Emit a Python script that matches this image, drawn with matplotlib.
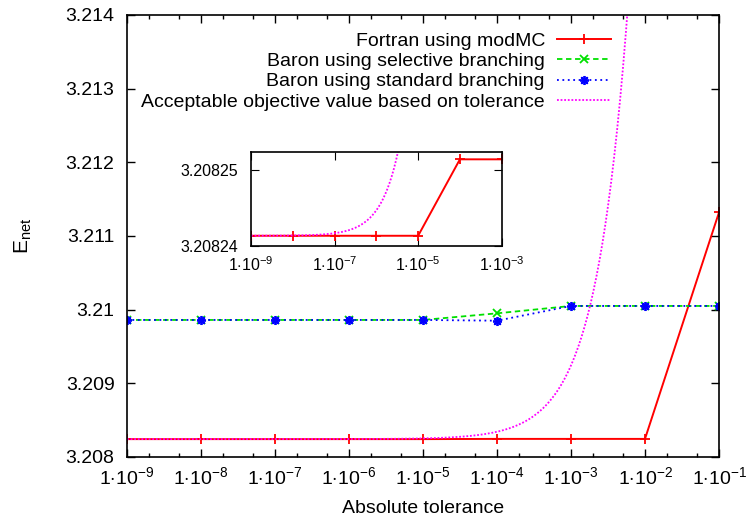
import numpy as np
import matplotlib.pyplot as plt
from matplotlib.ticker import LogLocator, FixedLocator, NullLocator, FuncFormatter

plt.rcParams['font.family'] = ['Liberation Sans', 'DejaVu Sans']
plt.rcParams['mathtext.fontset'] = 'custom'
plt.rcParams['mathtext.rm'] = 'Liberation Sans'
plt.rcParams['mathtext.it'] = 'Liberation Sans:italic'
plt.rcParams['mathtext.bf'] = 'Liberation Sans:bold'

# tolerances
tol = [1e-9, 1e-8, 1e-7, 1e-6, 1e-5, 1e-4, 1e-3, 1e-2, 1e-1]

# objective values
fortran = [3.2082424, 3.2082424, 3.2082424, 3.2082424, 3.2082424,
           3.2082454, 3.2082454, 3.2082454, 3.21132]
baron_sel = [3.20986, 3.20986, 3.20986, 3.20986, 3.20986,
             3.20995, 3.21005, 3.21005, 3.21005]
baron_std = [3.20986, 3.20986, 3.20986, 3.20986, 3.20986,
             3.20985, 3.21005, 3.21005, 3.21005]

# acceptable value = best objective + tolerance
best_obj = 3.2082424
xs = np.logspace(-9, -1, 600)
acceptable = best_obj + xs

FS = 14


def pow_label(v, p):
    return r'1$\cdot$10$^{%d}$' % round(np.log10(v))


fig = plt.figure(figsize=(7.47, 5.20), dpi=100)
ax = fig.add_axes([0.170, 0.1212, 0.7925, 0.85])

ax.plot(tol, fortran, '-', color='#ff0000', lw=1.4, marker='+', ms=7, mew=1.3,
        label='Fortran using modMC')
ax.plot(tol, baron_sel, color='#00e000', lw=1.3, ls=(0, (3, 2)), marker='x', ms=5.5, mew=1.3,
        label='Baron using selective branching')
ax.plot(tol, baron_std, color='#0000ff', lw=1.3, ls=(0, (1, 2)), marker=(8, 2, 0), ms=6.5, mew=1.3,
        label='Baron using standard branching')
ax.plot(xs, acceptable, color='#ff00ff', lw=1.3, ls=(0, (1, 1)),
        label='Acceptable objective value based on tolerance')

ax.set_xscale('log')
ax.set_xlim(1e-9, 1e-1)
ax.set_ylim(3.208, 3.214)
ax.set_yticks([3.208, 3.209, 3.21, 3.211, 3.212, 3.213, 3.214])
ax.set_yticklabels(['3.208', '3.209', '3.21', '3.211', '3.212', '3.213', '3.214'])
ax.xaxis.set_major_locator(FixedLocator(tol))
ax.xaxis.set_minor_locator(LogLocator(base=10, subs=(2.0, 5.0), numticks=20))
ax.xaxis.set_major_formatter(FuncFormatter(pow_label))
ax.tick_params(which='both', direction='in', top=True, right=True, labelsize=FS, width=1)
ax.tick_params(which='major', length=6)
ax.tick_params(which='minor', length=3)
ax.tick_params(axis='x', pad=7)
ax.tick_params(axis='y', pad=9)
for s in ax.spines.values():
    s.set_linewidth(1.2)

ax.set_xlabel('Absolute tolerance', fontsize=FS, labelpad=8)
ax.set_ylabel(r'E$_{\mathrm{net}}$', fontsize=FS + 1, labelpad=23)

ax.legend(loc='upper right', bbox_to_anchor=(0.8176, 0.961), frameon=False, markerfirst=False,
          fontsize=FS, handlelength=2.8, handletextpad=0.6, labelspacing=0.14,
          borderpad=0, borderaxespad=0)

# inset
ins = fig.add_axes([0.336, 0.527, 0.3356, 0.1813])
ins.plot(tol[:7], fortran[:7], '-', color='#ff0000', lw=1.4, marker='+', ms=7, mew=1.3)
ins.plot(xs, acceptable, color='#ff00ff', lw=1.3, ls=(0, (1, 1)))
ins.set_xscale('log')
ins.set_xlim(1e-9, 1e-3)
ins.set_ylim(3.208242, 3.2082457)
ins.yaxis.set_major_locator(FixedLocator([3.208242, 3.208245]))
ins.set_yticklabels(['3.20824', '3.20825'])
ins.xaxis.set_major_locator(FixedLocator([1e-9, 1e-7, 1e-5, 1e-3]))
ins.xaxis.set_minor_locator(NullLocator())
ins.xaxis.set_major_formatter(FuncFormatter(pow_label))
ins.tick_params(which='both', direction='in', top=True, right=True, labelsize=11.5, length=6)
ins.tick_params(axis='y', pad=9)
ins.tick_params(axis='x', pad=7)
for s in ins.spines.values():
    s.set_linewidth(1.2)

fig.savefig('out.png', dpi=100)
